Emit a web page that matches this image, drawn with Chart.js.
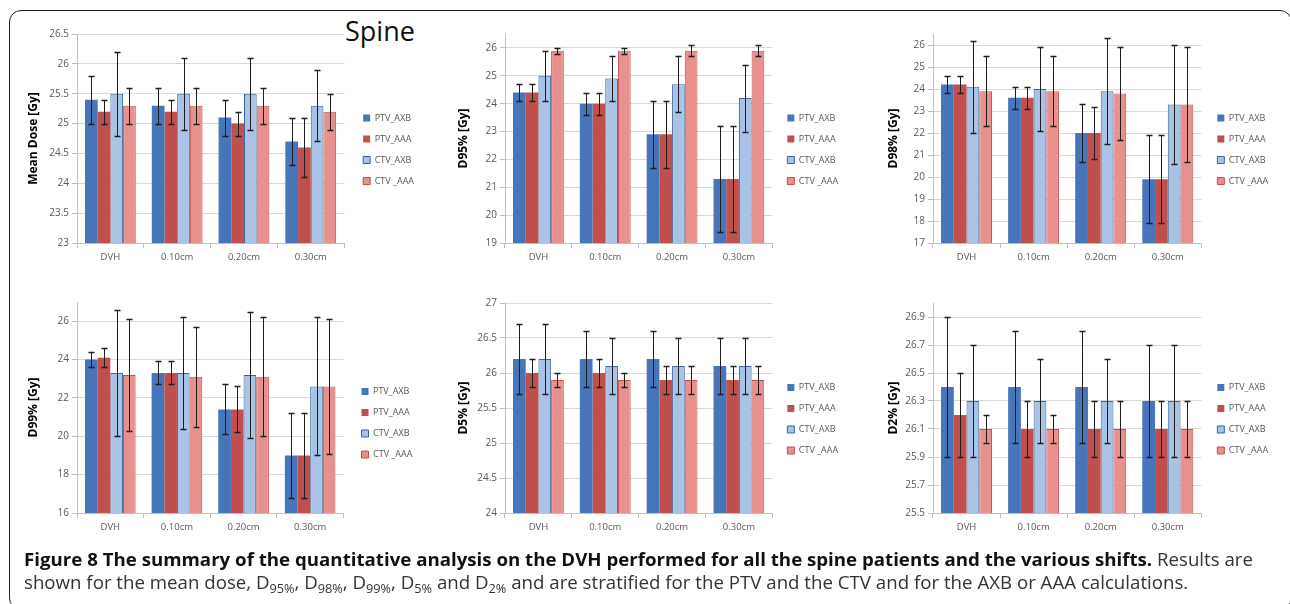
<!DOCTYPE html>
<html>
<head>
<meta charset="utf-8">
<script src="https://cdn.jsdelivr.net/npm/chart.js@4.4.1/dist/chart.umd.min.js"></script>
<style>
  html, body { margin:0; padding:0; background:#fff; width:1290px; height:604px; overflow:hidden; position:relative; font-family:'Open Sans', sans-serif; }
  .frame { position:absolute; left:9px; top:10px; width:1283px; height:600px; border:1.5px solid #222; border-radius:12px; box-sizing:border-box; }
  canvas { position:absolute; }
  .spine { position:absolute; left:345px; top:17px; font-size:27px; line-height:1; color:#111; }
  .caption { position:absolute; left:24px; top:548px; font-size:18px; line-height:23px; white-space:nowrap; color:#333; transform-origin:0 0; display:inline-block; }
  .caption b { color:#111; font-weight:700; }
  .caption sub { font-size:0.68em; line-height:0; vertical-align:-0.3em; }
</style>
</head>
<body>
<div class="frame"></div>
<div class="spine">Spine</div>
<canvas id="c1"></canvas>
<canvas id="c2"></canvas>
<canvas id="c3"></canvas>
<canvas id="c4"></canvas>
<canvas id="c5"></canvas>
<canvas id="c6"></canvas>
<div class="caption" id="cap"><span id="l1"><b>Figure 8 The summary of the quantitative analysis on the DVH performed for all the spine patients and the various shifts.</b> Results are</span><br><span>shown for the mean dose, D<sub>95%</sub>, D<sub>98%</sub>, D<sub>99%</sub>, D<sub>5%</sub> and D<sub>2%</sub> and are stratified for the PTV and the CTV and for the AXB or AAA calculations.</span></div>
<script>
// ---------- DATA ----------
const categories = ['DVH', '0.10cm', '0.20cm', '0.30cm'];
const seriesNames = ['PTV_AXB', 'PTV_AAA', 'CTV_AXB', 'CTV _AAA'];

// rows: PTV_AXB, PTV_AAA, CTV_AXB, CTV _AAA ; columns: categories
const meanDose    = [[25.4, 25.3, 25.1, 24.7], [25.2, 25.2, 25.0, 24.6], [25.5, 25.5, 25.5, 25.3], [25.3, 25.3, 25.3, 25.2]];
const meanDoseErr = [[0.4, 0.3, 0.3, 0.4], [0.2, 0.2, 0.2, 0.5], [0.7, 0.6, 0.6, 0.6], [0.3, 0.3, 0.3, 0.3]];
const meanDoseTicks = [23, 23.5, 24, 24.5, 25, 25.5, 26, 26.5];

const d95    = [[24.4, 24.0, 22.9, 21.3], [24.4, 24.0, 22.9, 21.3], [25.0, 24.9, 24.7, 24.2], [25.9, 25.9, 25.9, 25.9]];
const d95Err = [[0.3, 0.4, 1.2, 1.9], [0.3, 0.4, 1.2, 1.9], [0.9, 0.8, 1.0, 1.2], [0.1, 0.1, 0.2, 0.2]];
const d95Ticks = [19, 20, 21, 22, 23, 24, 25, 26];

const d98    = [[24.2, 23.6, 22.0, 19.9], [24.2, 23.6, 22.0, 19.9], [24.1, 24.0, 23.9, 23.3], [23.9, 23.9, 23.8, 23.3]];
const d98Err = [[0.4, 0.5, 1.3, 2.0], [0.4, 0.5, 1.2, 2.0], [2.1, 1.9, 2.4, 2.7], [1.6, 1.6, 2.1, 2.6]];
const d98Ticks = [17, 18, 19, 20, 21, 22, 23, 24, 25, 26];

const d99    = [[24.0, 23.3, 21.4, 19.0], [24.1, 23.3, 21.4, 19.0], [23.3, 23.3, 23.2, 22.6], [23.2, 23.1, 23.1, 22.6]];
const d99Err = [[0.4, 0.6, 1.3, 2.2], [0.5, 0.6, 1.2, 2.2], [3.3, 2.9, 3.3, 3.6], [2.9, 2.6, 3.1, 3.5]];
const d99Ticks = [16, 18, 20, 22, 24, 26];

const d5    = [[26.2, 26.2, 26.2, 26.1], [26.0, 26.0, 25.9, 25.9], [26.2, 26.1, 26.1, 26.1], [25.9, 25.9, 25.9, 25.9]];
const d5Err = [[0.5, 0.4, 0.4, 0.4], [0.2, 0.2, 0.2, 0.2], [0.5, 0.4, 0.4, 0.4], [0.1, 0.1, 0.2, 0.2]];
const d5Ticks = [24, 24.5, 25, 25.5, 26, 26.5, 27];

const d2    = [[26.4, 26.4, 26.4, 26.3], [26.2, 26.1, 26.1, 26.1], [26.3, 26.3, 26.3, 26.3], [26.1, 26.1, 26.1, 26.1]];
const d2Err = [[0.5, 0.4, 0.4, 0.4], [0.3, 0.2, 0.2, 0.2], [0.4, 0.3, 0.3, 0.4], [0.1, 0.1, 0.2, 0.2]];
const d2Ticks = [25.5, 25.7, 25.9, 26.1, 26.3, 26.5, 26.7, 26.9];

// ---------- STYLE ----------
const FAMILY = "'Open Sans', sans-serif";
const fills   = ['#4675ba', '#c0504d', '#a9c3e6', '#e8908e'];
const borders = ['#4675ba', '#c0504d', '#3d6396', '#c0504d'];
const borderW = [0, 0, 1, 1];
const LEG_FONT = 9, LEG_BOX = 7, LEG_PAD = 12;

const errorBarPlugin = {
  id: 'errorBars',
  afterDatasetsDraw(chart) {
    const ctx = chart.ctx, ys = chart.scales.y;
    chart.data.datasets.forEach((ds, di) => {
      const meta = chart.getDatasetMeta(di);
      meta.data.forEach((bar, i) => {
        const v = ds.data[i], e = ds.errors[i];
        const yt = Math.round(ys.getPixelForValue(v + e)) + 0.5;
        const yb = Math.round(ys.getPixelForValue(v - e)) + 0.5;
        const x = Math.round(bar.x) + 0.5;
        ctx.save();
        ctx.strokeStyle = '#1e1e1e';
        ctx.lineWidth = 1;
        ctx.beginPath();
        ctx.moveTo(x, yt); ctx.lineTo(x, yb);
        ctx.stroke();
        ctx.lineWidth = 1.5;
        ctx.beginPath();
        ctx.moveTo(x - 3, yt); ctx.lineTo(x + 3, yt);
        ctx.moveTo(x - 3, yb); ctx.lineTo(x + 3, yb);
        ctx.stroke();
        ctx.restore();
      });
    });
  }
};

// measure legend width
const mctx = document.createElement('canvas').getContext('2d');
mctx.font = LEG_FONT + 'px ' + FAMILY;
const maxText = Math.max(...seriesNames.map(s => mctx.measureText(s).width));
const legendW = LEG_PAD + (LEG_BOX + LEG_FONT / 2 + maxText) + 10;

function build(p, W, padW) {
  const canvas = document.getElementById(p.id);
  const H = p.canvasBottom - p.canvasTop;
  const xH = Math.max(22, 2 * p.legendCenter - p.plotTop - p.plotBottom);
  const B = p.plotBottom + xH;
  canvas.width = W; canvas.height = H;
  canvas.style.left = p.x0 + 'px';
  canvas.style.top = p.canvasTop + 'px';
  canvas.style.width = W + 'px'; canvas.style.height = H + 'px';
  const yW = p.plotLeft - p.x0;

  return new Chart(canvas, {
    type: 'bar',
    data: {
      labels: categories,
      datasets: seriesNames.map((name, k) => ({
        label: name,
        data: p.values[k],
        errors: p.errs[k],
        backgroundColor: fills[k],
        borderColor: borders[k],
        borderWidth: borderW[k],
        yAxisID: 'y',
        xAxisID: 'x',
        barPercentage: 1,
        categoryPercentage: 0.76
      }))
    },
    options: {
      responsive: false,
      animation: false,
      devicePixelRatio: 1,
      layout: { padding: { left: 0, right: 0, top: p.plotTop - p.canvasTop, bottom: p.canvasBottom - B } },
      plugins: {
        legend: {
          position: 'right',
          align: 'center',
          labels: {
            boxWidth: LEG_BOX, boxHeight: LEG_BOX, padding: LEG_PAD,
            color: '#595959', font: { size: LEG_FONT, family: FAMILY }
          }
        },
        tooltip: { enabled: false }
      },
      scales: {
        x: {
          afterFit: a => { a.height = xH; },
          grid: { display: true, drawOnChartArea: false, drawTicks: true, tickLength: 5, color: '#bfbfbf', offset: true },
          border: { color: '#bfbfbf' },
          ticks: { color: '#595959', font: { size: 9.5, family: FAMILY }, padding: 4, maxRotation: 0, autoSkip: false }
        },
        y: {
          min: p.min, max: p.max,
          afterBuildTicks: a => { a.ticks = p.ticks.map(v => ({ value: v })); },
          afterFit: a => { a.width = yW; },
          grid: { color: '#d9d9d9', tickColor: '#bfbfbf', tickLength: 5 },
          border: { color: '#bfbfbf' },
          ticks: { color: '#595959', font: { size: 10, family: FAMILY }, padding: 3, callback: v => String(v) },
          title: { display: true, text: p.title, color: '#000', font: { size: 12, weight: 'bold', family: FAMILY }, padding: { top: 4, bottom: 4 } }
        },
        pad: {
          type: 'linear', position: 'right', display: true,
          grid: { display: false, drawTicks: false },
          border: { display: false },
          ticks: { display: false },
          afterFit: a => { a.width = padW; }
        }
      }
    },
    plugins: [errorBarPlugin]
  });
}

function makePanel(p) {
  let W = Math.round(p.boxX - LEG_PAD + legendW - p.x0);
  let padW = Math.max(0, p.boxX - LEG_PAD - p.plotRight);
  let chart = build(p, W, padW);
  // correct for any difference between the intended and the real layout
  const bx = p.x0 + chart.legend.left + LEG_PAD;
  const cr = p.x0 + chart.chartArea.right;
  const d = Math.round(p.boxX - bx);
  const q = Math.round(cr + d - p.plotRight);
  if (d !== 0 || q !== 0) {
    chart.destroy();
    chart = build(p, W + d, Math.max(0, padW + q));
  }
}

const panels = [
  { id: 'c1', title: 'Mean Dose [Gy]', values: meanDose, errs: meanDoseErr, ticks: meanDoseTicks, min: 23, max: 26.5,
    x0: 22, canvasTop: 20, canvasBottom: 272, plotLeft: 77, plotRight: 343, plotTop: 34, plotBottom: 243, boxX: 362, legendCenter: 148 },
  { id: 'c2', title: 'D95% [Gy]', values: d95, errs: d95Err, ticks: d95Ticks, min: 19, max: 26.5,
    x0: 452, canvasTop: 20, canvasBottom: 272, plotLeft: 505, plotRight: 771, plotTop: 34, plotBottom: 243, boxX: 786, legendCenter: 147 },
  { id: 'c3', title: 'D98% [Gy]', values: d98, errs: d98Err, ticks: d98Ticks, min: 17, max: 26.5,
    x0: 882, canvasTop: 20, canvasBottom: 272, plotLeft: 933, plotRight: 1200, plotTop: 34, plotBottom: 243, boxX: 1216, legendCenter: 146 },
  { id: 'c4', title: 'D99% [Gy]', values: d99, errs: d99Err, ticks: d99Ticks, min: 16, max: 27,
    x0: 22, canvasTop: 288, canvasBottom: 550, plotLeft: 77, plotRight: 343, plotTop: 302, plotBottom: 513, boxX: 360, legendCenter: 423 },
  { id: 'c5', title: 'D5% [Gy]', values: d5, errs: d5Err, ticks: d5Ticks, min: 24, max: 27,
    x0: 452, canvasTop: 288, canvasBottom: 550, plotLeft: 505, plotRight: 771, plotTop: 303, plotBottom: 513, boxX: 786, legendCenter: 416 },
  { id: 'c6', title: 'D2% [Gy]', values: d2, errs: d2Err, ticks: d2Ticks, min: 25.5, max: 27,
    x0: 882, canvasTop: 288, canvasBottom: 550, plotLeft: 933, plotRight: 1200, plotTop: 303, plotBottom: 513, boxX: 1216, legendCenter: 416 }
];
panels.forEach(makePanel);

// fit caption width to the reference line length
const cap = document.getElementById('cap');
const l1w = document.getElementById('l1').getBoundingClientRect().width;
cap.style.transform = 'scaleX(' + (1229 / l1w) + ')';
</script>
</body>
</html>
